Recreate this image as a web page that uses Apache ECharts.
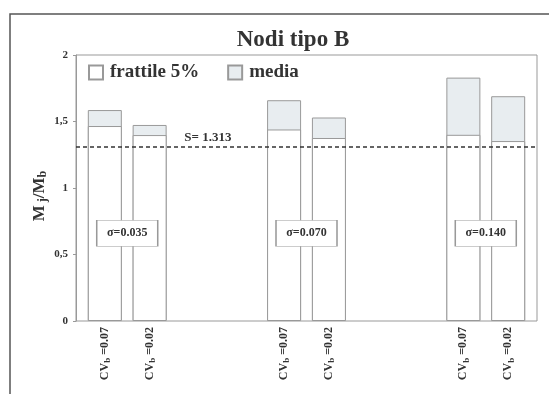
<!DOCTYPE html>
<html><head><meta charset="utf-8">
<script src="https://cdn.jsdelivr.net/npm/echarts@6/dist/echarts.min.js"></script>
<style>html,body{margin:0;padding:0;background:#fff}#c{width:549px;height:394px}</style>
</head><body><div id="c"></div>
<script>
// Data
const barPositions = [0, 1, 4, 5, 8, 9];
const cvLabels = ['0.07', '0.02', '0.07', '0.02', '0.07', '0.02'];
const frattile = [1.466, 1.398, 1.44, 1.376, 1.40, 1.353];
const media = [1.586, 1.474, 1.66, 1.53, 1.83, 1.69];
const sigmaLabels = ['σ=0.035', 'σ=0.070', 'σ=0.140'];
const sigmaPositions = [0.5, 4.5, 8.5];
const sValue = 1.313;
const yTicks = [0, 0.5, 1, 1.5, 2];

const serif = '"Liberation Serif", "DejaVu Serif", serif';
const chart = echarts.init(document.getElementById('c'));
const frattileData = barPositions.map((p, i) => [p, frattile[i]]);
const mediaData = barPositions.map((p, i) => [p, media[i]]);
const cvMap = {};
barPositions.forEach((p, i) => cvMap[p] = cvLabels[i]);

chart.setOption({
  animation: false,
  backgroundColor: '#fff',
  title: {
    text: 'Nodi tipo B', left: 288, top: 24, textAlign: 'center',
    textStyle: { fontFamily: serif, fontWeight: 'bold', fontSize: 23, color: '#333' }
  },
  legend: {
    left: 83, top: 58, itemWidth: 14, itemHeight: 14, itemGap: 28, icon: 'rect',
    textStyle: { fontFamily: serif, fontWeight: 'bold', fontSize: 19, color: '#333', padding: [0, 0, 0, 2] },
    data: ['frattile 5%', 'media']
  },
  grid: { left: 76, right: 12, top: 55, bottom: 73, show: true, borderColor: '#999', borderWidth: 1 },
  xAxis: {
    type: 'value', min: -0.643, max: 9.643,
    splitLine: { show: false }, axisLine: { show: false, onZero: false }, axisTick: { show: false },
    axisLabel: {
      customValues: barPositions, rotate: 90, margin: 6,
      formatter: v => '{a|CV}{s|b}{a| =' + cvMap[v] + '}',
      rich: {
        a: { fontFamily: serif, fontWeight: 'bold', fontSize: 12, color: '#333' },
        s: { fontFamily: serif, fontWeight: 'bold', fontSize: 9, color: '#333', padding: [6, 0, 0, 0] }
      }
    }
  },
  yAxis: {
    type: 'value', min: 0, max: 2, interval: 0.5,
    name: '{a|M}{s| j}{a|/M}{s|b}', nameLocation: 'middle', nameGap: 27, nameRotate: 90,
    nameMoveOverlap: false,
    nameTextStyle: {
      padding: [0, 16, 0, 0],
      rich: {
        a: { fontFamily: serif, fontWeight: 'bold', fontSize: 17, color: '#333' },
        s: { fontFamily: serif, fontWeight: 'bold', fontSize: 12, color: '#333', padding: [7, 0, 0, 0] }
      }
    },
    splitLine: { show: false },
    axisLine: { show: true, onZero: false, lineStyle: { color: '#999' } },
    axisTick: { show: true, length: 3, lineStyle: { color: '#999' } },
    axisLabel: {
      customValues: yTicks, margin: 8,
      fontFamily: serif, fontWeight: 'bold', fontSize: 11, color: '#333',
      formatter: v => String(v).replace('.', ',')
    }
  },
  series: [
    {
      name: 'media', type: 'bar', barWidth: 34, barGap: '-100%', data: mediaData, z: 2,
      itemStyle: { color: '#e8edf0', borderColor: '#999', borderWidth: 1 }
    },
    {
      name: 'frattile 5%', type: 'bar', barWidth: 34, barGap: '-100%', data: frattileData, z: 3,
      itemStyle: { color: '#fff', borderColor: '#999', borderWidth: 1 },
      markLine: {
        symbol: 'none', silent: true,
        lineStyle: { type: [4, 3], color: '#333', width: 1.5 },
        label: { show: false },
        data: [{ yAxis: sValue }]
      },
      markPoint: {
        silent: true,
        data: [
          {
            coord: [2.3, sValue], symbol: 'rect', symbolSize: 0,
            label: { show: true, formatter: 'S= ' + sValue, offset: [0, -9], fontFamily: serif, fontWeight: 'bold', fontSize: 13, color: '#333' }
          }
        ].concat(sigmaPositions.map((p, i) => ({
          coord: [p, 0.66], symbol: 'rect', symbolSize: [61, 26],
          itemStyle: { color: '#fff', borderColor: '#999', borderWidth: 1 },
          label: { show: true, position: 'inside', formatter: sigmaLabels[i], fontFamily: serif, fontWeight: 'bold', fontSize: 12, color: '#333' }
        })))
      }
    }
  ],
  graphic: [
    { type: 'rect', shape: { x: 10, y: 14, width: 560, height: 400 }, style: { fill: 'none', stroke: '#555', lineWidth: 1.5 }, silent: true }
  ]
});
</script></body></html>
